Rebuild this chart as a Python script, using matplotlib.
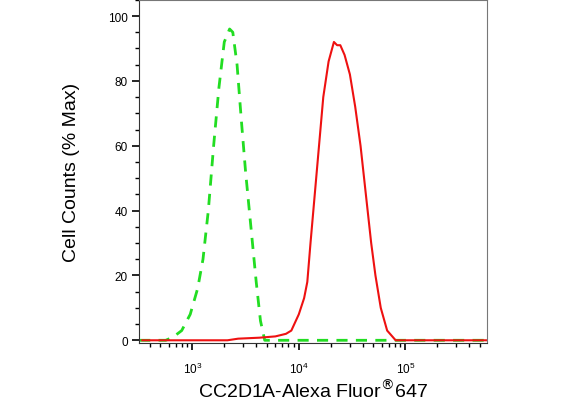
import numpy as np
import matplotlib.pyplot as plt
from matplotlib.ticker import LogLocator, MultipleLocator, NullFormatter

plt.rcParams['font.family'] = ['Liberation Sans', 'DejaVu Sans']

# log10 fluorescence, % max
ctrl_logx = [2.5, 2.75, 2.82, 2.9, 2.98, 3.05, 3.1, 3.15, 3.2, 3.25, 3.3, 3.35, 3.38,
             3.42, 3.46, 3.5, 3.55, 3.6, 3.64, 3.68, 5.77]
ctrl_y = [0, 0, 1, 3, 8, 16, 25, 40, 60, 78, 92, 96, 95, 85, 68, 52, 35, 18, 6, 0, 0]

stain_logx = [2.5, 3.3, 3.4, 3.6, 3.75, 3.85, 3.9, 3.97, 4.02, 4.05, 4.08, 4.12, 4.16,
              4.2, 4.25, 4.3, 4.33, 4.36, 4.4, 4.45, 4.5, 4.55, 4.6, 4.65, 4.69, 4.74,
              4.8, 4.88, 5.77]
stain_y = [0, 0, 0.5, 0.8, 1.2, 2, 3, 8, 13, 18, 30, 45, 60, 75, 86, 92, 91, 91, 88,
           82, 72, 60, 45, 30, 20, 10, 3, 0, 0]

fig = plt.figure(figsize=(5.87, 4.06), dpi=100)
ax = fig.add_axes([0.237, 0.153, 0.593, 0.845])

ax.plot(10 ** np.array(ctrl_logx), ctrl_y, color='#22dd22', lw=2, ls=(0, (4, 3)))
ax.plot(10 ** (np.array(stain_logx) + 0.03), stain_y, color='#ee1111', lw=1.5)

ax.set_xscale('log')
ax.set_xlim(10 ** 2.5, 10 ** 5.77)
ax.set_ylim(-0.8, 105)
ax.xaxis.set_major_locator(LogLocator(base=10, numticks=10))
ax.xaxis.set_minor_locator(LogLocator(base=10, subs=np.arange(2, 10), numticks=20))
ax.xaxis.set_minor_formatter(NullFormatter())
ax.yaxis.set_major_locator(MultipleLocator(20))
ax.yaxis.set_minor_locator(MultipleLocator(5))

for s in ax.spines.values():
    s.set_color('#777777')
ax.spines['left'].set_color('#333333')
ax.spines['bottom'].set_color('#333333')
ax.tick_params(which='major', length=5, width=1.2, labelsize=8.5, pad=8)
ax.tick_params(which='minor', length=3, width=1)
ax.tick_params(axis='y', pad=3)

ax.set_ylabel('Cell Counts (% Max)', fontsize=14, labelpad=20)
ax.set_xlabel(r'CC2D1A-Alexa Fluor$^{\circledR}$647', fontsize=14, labelpad=2)

fig.savefig('out.png', dpi=100)
